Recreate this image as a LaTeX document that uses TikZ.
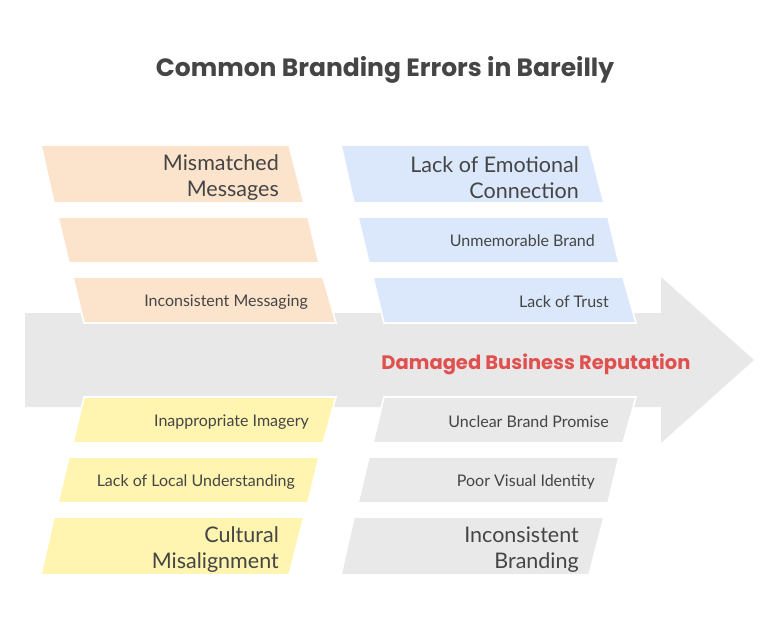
\documentclass[tikz,border=0pt]{standalone}
\usepackage{fontspec}
\setmainfont{Lato}
\newfontfamily\titlefont{Poppins}
\definecolor{peach}{HTML}{FCE3CB}
\definecolor{bluebox}{HTML}{DBE8FC}
\definecolor{yellowbox}{HTML}{FFF5B1}
\definecolor{graybox}{HTML}{E9E9E9}
\definecolor{arrowgray}{HTML}{E8E8E8}
\definecolor{txt}{HTML}{454545}
\definecolor{redtxt}{HTML}{E0504F}
\tikzset{
  x=1pt, y=-1pt,
  boxshape/.style={line width=1.6pt, draw=white, line join=miter},
  small/.style={anchor=east, inner sep=0pt, text=txt, font=\fontsize{16}{19}\selectfont},
  big/.style={anchor=east, inner sep=0pt, text=txt, align=right, font=\fontsize{21.5}{26}\selectfont},
}
\begin{document}
\begin{tikzpicture}
\useasboundingbox (0,0) rectangle (780,625);
% title
\node[text=txt, font=\titlefont\bfseries\fontsize{25}{30}\selectfont] (title) at (385,70) {Common Branding Errors in Bareilly};
% main arrow
\fill[arrowgray] (25,313) -- (661,313) -- (661,277) -- (754,360) -- (661,443) -- (661,407) -- (25,407) -- cycle;
% top-left (peach)
\filldraw[boxshape, fill=peach] (41,145) -- (289,145) -- (304,203) -- (54,203) -- cycle;
\filldraw[boxshape, fill=peach] (58,217) -- (308,217) -- (319,263) -- (69,263) -- cycle;
\filldraw[boxshape, fill=peach] (73,277) -- (323,277) -- (336,323) -- (84,323) -- cycle;
% top-right (blue)
\filldraw[boxshape, fill=bluebox] (341,145) -- (589,145) -- (604,203) -- (354,203) -- cycle;
\filldraw[boxshape, fill=bluebox] (358,217) -- (608,217) -- (619,263) -- (369,263) -- cycle;
\filldraw[boxshape, fill=bluebox] (373,277) -- (623,277) -- (636,323) -- (384,323) -- cycle;
% bottom-left (yellow)
\filldraw[boxshape, fill=yellowbox] (84,397) -- (336,397) -- (323,443) -- (73,443) -- cycle;
\filldraw[boxshape, fill=yellowbox] (69,457) -- (319,457) -- (308,503) -- (58,503) -- cycle;
\filldraw[boxshape, fill=yellowbox] (54,517) -- (304,517) -- (289,575) -- (41,575) -- cycle;
% bottom-right (gray)
\filldraw[boxshape, fill=graybox] (384,397) -- (636,397) -- (623,443) -- (373,443) -- cycle;
\filldraw[boxshape, fill=graybox] (369,457) -- (619,457) -- (608,503) -- (358,503) -- cycle;
\filldraw[boxshape, fill=graybox] (354,517) -- (604,517) -- (589,575) -- (341,575) -- cycle;
% labels
\node[big] (mm) at (279,177.5) {Mismatched\\Messages};
\node[small] (im) at (308,302) {Inconsistent Messaging};
\node[big] (lec) at (579,177.5) {Lack of Emotional\\Connection};
\node[small] (ub) at (595,241) {Unmemorable Brand};
\node[small] (lt) at (609,302) {Lack of Trust};
\node[small] (ii) at (309,422) {Inappropriate Imagery};
\node[small] (llu) at (295,482) {Lack of Local Understanding};
\node[big] (cm) at (279,549.5) {Cultural\\Misalignment};
\node[small] (ubp) at (609,422) {Unclear Brand Promise};
\node[small] (pvi) at (595,482) {Poor Visual Identity};
\node[big] (ib) at (579,549.5) {Inconsistent\\Branding};
\node[text=redtxt, font=\titlefont\bfseries\fontsize{19.5}{23}\selectfont] (dbr) at (536,364) {Damaged Business Reputation};
\end{tikzpicture}
\end{document}
